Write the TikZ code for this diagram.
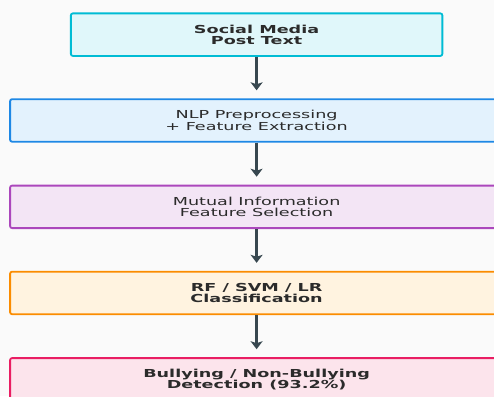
\documentclass[tikz,border=0pt]{standalone}
\usepackage{fontspec}
\newfontfamily\dvs[FakeStretch=1.6]{DejaVu Sans}
\usetikzlibrary{arrows.meta,positioning}
\definecolor{bg}{HTML}{FAFAFA}
\definecolor{cyanB}{HTML}{00BCD4}\definecolor{cyanF}{HTML}{E0F7FA}
\definecolor{blueB}{HTML}{1E88E5}\definecolor{blueF}{HTML}{E3F2FD}
\definecolor{purpB}{HTML}{AB47BC}\definecolor{purpF}{HTML}{F3E5F5}
\definecolor{oranB}{HTML}{FB8C00}\definecolor{oranF}{HTML}{FFF3E0}
\definecolor{pinkB}{HTML}{E91E63}\definecolor{pinkF}{HTML}{FCE4EC}
\definecolor{arrC}{HTML}{37474F}
\definecolor{txt}{HTML}{2B2B2B}
\tikzset{
  stagebox/.style={draw=#1B, fill=#1F, line width=1.8pt, rounded corners=2pt,
    inner sep=0pt, align=center, text=txt, minimum height=42.5pt,
    font=\dvs\fontsize{11}{11.5}\selectfont},
  wide/.style={minimum width=493pt},
  flowarrow/.style={draw=arrC, line width=2.4pt,
    -{Stealth[length=8pt,width=12pt,inset=2pt]}},
}
\begin{document}
\begin{tikzpicture}[x=1pt,y=-1pt]
\fill[bg] (0,0) rectangle (494,396);
\useasboundingbox (0,0) rectangle (494,396);
\node[stagebox=cyan, minimum width=371.5pt, anchor=north] (b1) at (256.6,12.5) {\bfseries Social Media\\\bfseries Post Text};
\node[stagebox=blue, wide, anchor=north] (b2) at (256.6,98.3) {NLP Preprocessing\\+ Feature Extraction};
\node[stagebox=purp, wide, anchor=north] (b3) at (256.6,184.7) {Mutual Information\\Feature Selection};
\node[stagebox=oran, wide, anchor=north] (b4) at (256.6,270.8) {\bfseries RF / SVM / LR\\\bfseries Classification};
\node[stagebox=pink, wide, anchor=north] (b5) at (256.6,357.2) {\bfseries Bullying / Non-Bullying\\\bfseries Detection (93.2\%)};
\draw[flowarrow] (b1.south) -- ([yshift=8pt]b2.north);
\draw[flowarrow] (b2.south) -- ([yshift=8pt]b3.north);
\draw[flowarrow] (b3.south) -- ([yshift=8pt]b4.north);
\draw[flowarrow] (b4.south) -- ([yshift=8pt]b5.north);
\end{tikzpicture}
\end{document}
